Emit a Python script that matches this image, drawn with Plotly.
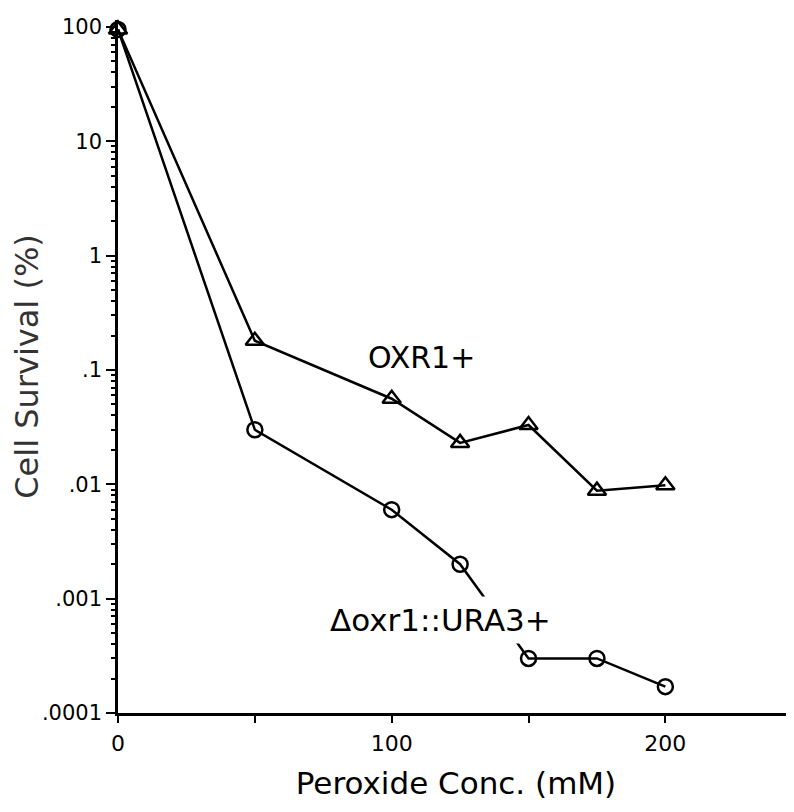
import plotly.graph_objects as go

# Data
conc = [0, 50, 100, 125, 150, 175, 200]
oxr1_plus = [95, 0.18, 0.056, 0.023, 0.033, 0.0088, 0.0098]
delta_oxr1 = [95, 0.030, 0.0060, 0.0020, 0.00030, 0.00030, 0.00017]

y_tickvals = [0.0001, 0.001, 0.01, 0.1, 1, 10, 100]
y_ticktext = [".0001", ".001", ".01", ".1", "1", "10", "100"]
x_tickvals = [0, 50, 100, 150, 200]
x_ticktext = ["0", "", "100", "", "200"]

label_oxr1 = "OXR1+"
label_delta = "\u0394oxr1::URA3+"

FONT = "DejaVu Sans"

minor_vals = [m * 10 ** e for e in range(-4, 2) for m in range(2, 10)]

fig = go.Figure()
fig.add_trace(go.Scatter(
    x=conc, y=oxr1_plus, mode="lines+markers", name=label_oxr1,
    line=dict(color="black", width=2.5),
    marker=dict(symbol="triangle-up-open", size=16, color="black",
                line=dict(width=2.5, color="black")),
    cliponaxis=False,
))
fig.add_trace(go.Scatter(
    x=conc, y=delta_oxr1, mode="lines+markers", name=label_delta,
    line=dict(color="black", width=2.5),
    marker=dict(symbol="circle-open", size=15, color="black",
                line=dict(width=2.5, color="black")),
    cliponaxis=False,
))

fig.add_annotation(x=111, y=-0.89, xref="x", yref="y", text=label_oxr1,
                   showarrow=False, font=dict(family=FONT, size=30, color="black"))
fig.add_annotation(x=118, y=-3.19, xref="x", yref="y", text=label_delta,
                   showarrow=False, bgcolor="white", borderpad=5,
                   font=dict(family=FONT, size=31, color="black"))

fig.update_layout(
    width=786, height=804,
    margin=dict(l=110, r=0, t=12, b=99),
    plot_bgcolor="white", paper_bgcolor="white",
    showlegend=False,
    font=dict(family=FONT, color="black"),
)
fig.update_xaxes(
    range=[0, 247], showgrid=False, zeroline=False, automargin=False,
    showline=True, linecolor="black", linewidth=2.5,
    tickmode="array", tickvals=x_tickvals, ticktext=x_ticktext,
    ticks="outside", ticklen=7, tickwidth=2, tickcolor="black",
    ticklabelstandoff=2,
    tickfont=dict(family=FONT, size=22, color="black"),
    title=dict(text="Peroxide Conc. (mM)", standoff=18,
               font=dict(family=FONT, size=31, color="black")),
)
fig.update_yaxes(
    type="log", range=[-4, 2.06], showgrid=False, zeroline=False, automargin=False,
    showline=True, linecolor="black", linewidth=2.5,
    tickmode="array", tickvals=y_tickvals, ticktext=y_ticktext,
    ticks="outside", ticklen=9, tickwidth=2, tickcolor="black",
    tickfont=dict(family=FONT, size=21, color="black"),
    minor=dict(tickmode="array", tickvals=minor_vals, ticks="outside",
               ticklen=4, tickwidth=1.5, tickcolor="black", showgrid=False),
    title=dict(text="Cell Survival (%)", standoff=3,
               font=dict(family=FONT, size=32, color="#333333")),
)

fig.write_html("out.html")
